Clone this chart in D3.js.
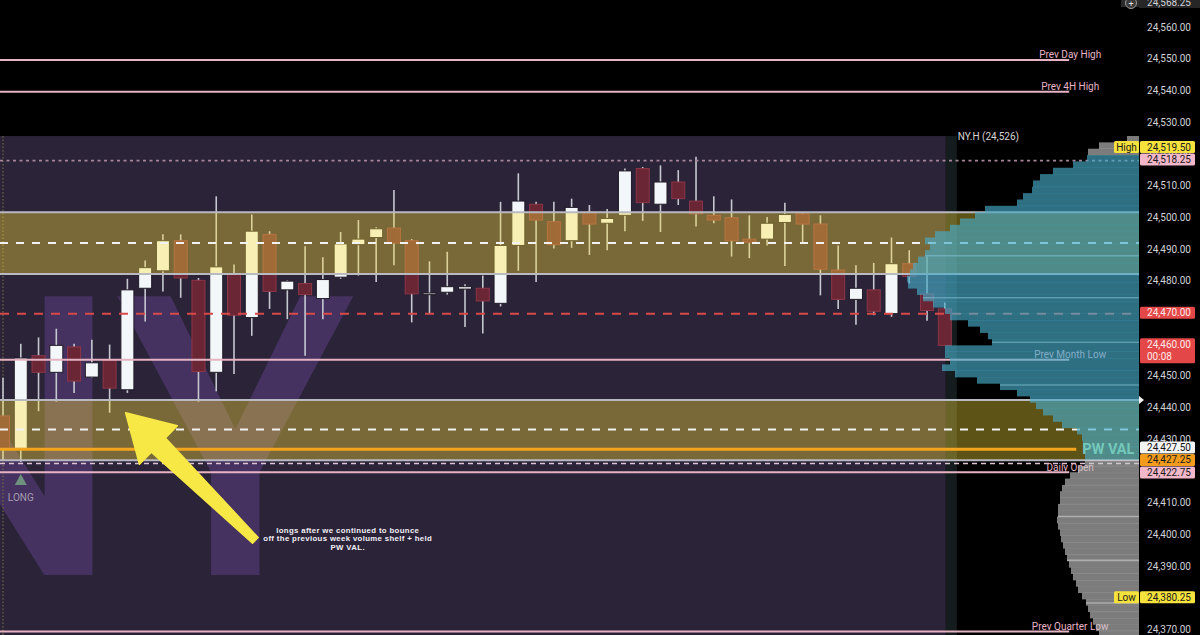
<!DOCTYPE html>
<html><head><meta charset="utf-8">
<script src="https://cdn.jsdelivr.net/npm/d3@7"></script>
<style>html,body{margin:0;padding:0;background:#000;overflow:hidden}</style>
</head><body>
<svg id="chart" width="1200" height="635"></svg>
<script>
// ---------- DATA ----------
const candleOpen  = [24437.75,24427.5,24456.75,24451.5,24459.5,24450,24455.25,24446,24478,24483.5,
  24493,24480.5,24451.5,24482.5,24468.75,24495,24477.5,24479.5,24474.75,24481.5,
  24491.75,24494,24497,24493,24476.5,24476.75,24477.75,24478,24473.25,24491.5,
  24504.5,24499,24493,24502,24498.5,24501,24515.75,24504.5,24511.5,24505.5,
  24501,24500.25,24493.5,24493.5,24498.75,24501.5,24498.25,24483.75,24474.5,24477.5,
  24470,24485.75,24476.25,24471.5];
const candleHigh  = [24449.75,24460.5,24462.5,24465.25,24460.5,24461.75,24460.25,24481,24486.75,24495,
  24495,24481.25,24507,24485.5,24501.25,24496,24480.5,24491.25,24487.75,24495.75,
  24499.5,24497.25,24509,24493.5,24486.5,24489.5,24479.25,24482,24505.25,24514.25,
  24505.25,24505.25,24506.25,24504.25,24503,24515.75,24516.25,24516.75,24515.25,24519.5,
  24507,24506,24501,24500.5,24505,24501.75,24501,24491.5,24485.25,24486,
  24494,24490,24488,24473.5];
const candleLow   = [24423.5,24423.25,24439.25,24442.25,24445,24449.75,24438.75,24445,24467.5,24477,
  24475,24442.25,24445.5,24451,24463,24471.5,24468.25,24456.75,24468.25,24481,
  24482,24480,24485.25,24467.25,24470,24476,24465.75,24463.75,24472.25,24483.5,
  24480,24490.5,24490.75,24488.5,24490,24496,24499.25,24495.75,24504.25,24497.5,
  24498.5,24488,24487.5,24491.5,24485,24492,24475.75,24471.5,24466.5,24469.5,
  24469,24479.5,24467.75,24460];
const candleClose = [24427.5,24456,24451.5,24460,24448.75,24454.5,24446.5,24477.5,24484.5,24493,
  24481.25,24451.75,24484.75,24469.5,24496,24477,24480.25,24476,24480.75,24492,
  24493.5,24496.75,24492.25,24476.25,24476.5,24478.5,24478.5,24474,24491.5,24505.5,
  24499.5,24491.75,24503.5,24498.25,24500,24515,24505,24511.5,24506.25,24501.5,
  24499.5,24493,24492.5,24498.5,24501.25,24498.25,24484,24474.5,24478,24470.75,
  24485.75,24481.75,24471,24460];

const tickValues = [24370,24380,24390,24400,24410,24420,24430,24440,24450,24460,
  24470,24480,24490,24500,24510,24520,24530,24540,24550,24560];

const bandTop    = [24502, 24442.75];
const bandMid    = [24492.25, 24433.5];
const bandBottom = [24482.5, 24423.75];

const keyLevelNames  = ['Prev Day High','Prev 4H High','Prev Month Low','Daily Open','Prev Quarter Low'];
const keyLevelPrices = [24550, 24540, 24455.5, 24420, 24369.75];
const dashedLevelPrices = [24518.25, 24422.75];
const redLevelPrice = 24470;
const pwValPrice = 24427.25;
const nyHighPrice = 24526;
const nyHighText = 'NY.H (24,526)';

// volume profile: 2-point bins, from top bin (lower edge) downwards
const profileTopBin = 24524;
const profileStep = 2;
const profileVolume = [12,40,51,52,66,86,99,106,107,116,
  122,154,164,179,189,204,214,209,214,221,
  226,229,232,231,222,216,206,194,189,171,
  159,151,147,194,194,189,197,184,162,139,
  122,109,103,96,86,77,62,57,56,55,
  54,54,61,69,74,77,79,79,81,81,
  82,81,79,78,76,74,72,70,68,66,
  63,61,57,53,51,49,46,43,40];
const valueAreaLow = 24424, valueAreaHigh = 24520;
const profileRowPrices = [24488.25, 24475, 24461, 24447.5, 24406, 24392.25, 24378.75];

const tagPrices = [24518.25, 24519.5, 24470, 24460, 24427.5, 24427.25, 24422.75, 24380.25];
const tagTexts  = ['24,518.25','24,519.50','24,470.00','24,460.00','24,427.50','24,427.25','24,422.75','24,380.25'];
const tagSub    = ['','','','00:08','','','',''];
const tagSide   = ['','High','','','','','','Low'];
const tagBg     = ['#f2b7c8','#f6e23c','#e34747','#e34747','#f4f4f4','#f39b1d','#f2b7c8','#f6e23c'];
const tagFg     = ['#1a1a1a','#1a1a1a','#ffe9e9','#ffe9e9','#111','#1a1a1a','#1a1a1a','#1a1a1a'];
const topTagPrice = 24568.25, topTagText = '24,568.25';

const annotationLines = ['longs after we continued to bounce','off the previous week volume shelf + held','PW VAL.'];
const longSignalIndex = 1;

// ---------- DRAW ----------
const svg = d3.select('#chart');
const W = 1200, H = 635;
const FONT = "Roboto, 'Noto Sans', sans-serif";
const y = d3.scaleLinear().domain([24560, 24370]).range([28.2, 630.8]);
const x = d3.scaleLinear().domain([0, 53]).range([3, 944.8]);
const RIGHT = 1139;
const lineEnd = x(60);
const boxRight = x(53) + 1;
const boxTop = y(nyHighPrice);

svg.append('rect').attr('width', W).attr('height', H).attr('fill', '#000');
svg.append('rect').attr('x', 0).attr('y', boxTop).attr('width', boxRight).attr('height', H - boxTop).attr('fill', '#2b2338');
svg.append('rect').attr('x', boxRight).attr('y', boxTop).attr('width', 11).attr('height', H - boxTop).attr('fill', '#151c1e');

const defs = svg.append('defs');
defs.append('clipPath').attr('id', 'boxclip').append('rect')
  .attr('x', 0).attr('y', boxTop).attr('width', boxRight).attr('height', H - boxTop);
svg.append('text').attr('clip-path', 'url(#boxclip)')
  .attr('x', -157).attr('y', 575)
  .attr('font-family', FONT).attr('font-weight', 500).attr('font-size', 392)
  .attr('fill', '#5b3f82').attr('fill-opacity', 0.55).text('NY');

// session start dotted line
svg.append('line').attr('x1', x(0)).attr('x2', x(0)).attr('y1', boxTop).attr('y2', H)
  .attr('stroke', '#7d7446').attr('stroke-width', 1).attr('stroke-dasharray', '1.5,2');

// candles
const candles = candleOpen.map((o, i) => ({i, o, h: candleHigh[i], l: candleLow[i], c: candleClose[i]}));
const cg = svg.append('g');
cg.selectAll('line.wick').data(candles).join('line')
  .attr('x1', d => x(d.i)).attr('x2', d => x(d.i))
  .attr('y1', d => y(d.h)).attr('y2', d => y(d.l))
  .attr('stroke', '#c6c8d0').attr('stroke-width', 1.6);
cg.selectAll('rect.body').data(candles).join('rect')
  .attr('x', d => x(d.i) - 6.5).attr('width', 13)
  .attr('y', d => y(Math.max(d.o, d.c)))
  .attr('height', d => Math.max(1.6, Math.abs(y(d.o) - y(d.c))))
  .attr('fill', d => d.c >= d.o ? '#f4f7fa' : '#6b2636')
  .attr('stroke', d => d.c >= d.o ? '#1f1b26' : '#8c3646')
  .attr('stroke-width', 1);

// yellow bands (overlay)
bandTop.forEach((t, k) => {
  svg.append('rect').attr('x', 0).attr('width', RIGHT)
    .attr('y', y(t)).attr('height', y(bandBottom[k]) - y(t))
    .attr('fill', '#ffe13c').attr('fill-opacity', 0.37);
});

// lines (under the profile)
const lg = svg.append('g');
function hline(p, x1, x2, color, w, dash) {
  const l = lg.append('line').attr('x1', x1).attr('x2', x2).attr('y1', y(p)).attr('y2', y(p))
    .attr('stroke', color).attr('stroke-width', w);
  if (dash) l.attr('stroke-dasharray', dash);
  return l;
}
bandTop.forEach(p => hline(p, 0, RIGHT, '#b9b9c2', 2));
bandBottom.forEach(p => hline(p, 0, RIGHT, '#b9b9c2', 2));
bandMid.forEach(p => hline(p, 0, RIGHT, '#f2f2f2', 2, '8,8'));
hline(redLevelPrice, 0, RIGHT, '#d64a4a', 2, '9,8');
hline(dashedLevelPrices[0], 0, RIGHT, '#a48698', 1.6, '3,3.5');
hline(dashedLevelPrices[1], 0, RIGHT, '#dcc3d3', 1.5, '5,4');
keyLevelPrices.forEach(p => hline(p, 0, lineEnd, '#e6b3c3', 2));
hline(pwValPrice, 0, x(60.4), '#f3a51d', 3);

// level labels
keyLevelNames.forEach((n, k) => {
  svg.append('text').attr('x', lineEnd + 1).attr('y', y(keyLevelPrices[k]) - 5)
    .attr('text-anchor', 'middle').attr('dominant-baseline', 'central')
    .attr('font-family', FONT).attr('font-size', 10).attr('fill', '#e8b4c6').text(n);
});

// volume profile
const bins = profileVolume.map((v, k) => ({low: profileTopBin - k * profileStep, v}));
const vx = d3.scaleLinear().domain([0, d3.max(profileVolume)]).range([0, 232]);
function binWidth(p) {
  const b = bins.find(b => p >= b.low && p < b.low + profileStep);
  return b ? vx(b.v) : 0;
}
profileRowPrices.forEach(p => {
  svg.append('line').attr('x1', RIGHT - binWidth(p)).attr('x2', RIGHT).attr('y1', y(p)).attr('y2', y(p))
    .attr('stroke', '#ffffff').attr('stroke-opacity', 0.5).attr('stroke-width', 1.5);
});
svg.append('g').selectAll('rect').data(bins).join('rect')
  .attr('x', d => RIGHT - vx(d.v)).attr('width', d => vx(d.v))
  .attr('y', d => y(d.low + profileStep)).attr('height', d => y(d.low) - y(d.low + profileStep) + 0.3)
  .attr('fill', d => (d.low >= valueAreaLow && d.low < valueAreaHigh) ? '#46aac8' : '#c8c8c8')
  .attr('fill-opacity', d => (d.low >= valueAreaLow && d.low < valueAreaHigh) ? 0.65 : 0.62);

// PW VAL label
svg.append('text').attr('x', x(60.4) + 6).attr('y', y(pwValPrice))
  .attr('dominant-baseline', 'central').attr('font-family', FONT).attr('font-weight', 700)
  .attr('font-size', 14.5).attr('fill', '#74c8bb').text('PW VAL');

// NY.H label
svg.append('text').attr('x', boxRight + 12).attr('y', boxTop)
  .attr('dominant-baseline', 'central').attr('font-family', FONT).attr('font-size', 10)
  .attr('fill', '#d6d6d6').text(nyHighText);

// ---------- right axis ----------
svg.append('rect').attr('x', RIGHT).attr('y', 0).attr('width', W - RIGHT).attr('height', H).attr('fill', '#000');
svg.append('g').selectAll('text').data(tickValues).join('text')
  .attr('x', 1191).attr('y', d => y(d) - 1.2)
  .attr('text-anchor', 'end').attr('dominant-baseline', 'central')
  .attr('font-family', FONT).attr('font-size', 10).attr('fill', '#cfd1d6')
  .text(d => d3.format(',.2f')(d));

// top partial tag
svg.append('rect').attr('x', RIGHT).attr('y', y(topTagPrice) - 7).attr('width', W - RIGHT).attr('height', 13).attr('fill', '#262626');
svg.append('rect').attr('x', 1121).attr('y', -4).attr('width', 18).attr('height', 11).attr('fill', '#2a2a2a');
svg.append('circle').attr('cx', 1131).attr('cy', 3).attr('r', 5.5).attr('fill', '#3a3a3a').attr('stroke', '#9a9a9a').attr('stroke-width', 1);
svg.append('text').attr('x', 1131).attr('y', 3.5).attr('text-anchor', 'middle').attr('dominant-baseline', 'central')
  .attr('font-family', FONT).attr('font-size', 9).attr('fill', '#ddd').text('+');
svg.append('text').attr('x', 1191).attr('y', y(topTagPrice) + 0.5).attr('text-anchor', 'end').attr('dominant-baseline', 'central')
  .attr('font-family', FONT).attr('font-size', 10).attr('fill', '#cfd1d6').text(topTagText);

// marker triangle at band-2 top
const ty = y(bandTop[1]);
svg.append('path').attr('d', `M${RIGHT},${ty - 4}L${RIGHT + 5},${ty}L${RIGHT},${ty + 4}Z`).attr('fill', '#f2f2f2');

// price tags with collision stacking
const TAG_H = 12;
const placed = [];
tagPrices.forEach((p, k) => {
  const nat = y(p) - 1;
  const h = tagSub[k] ? 25 : TAG_H;
  let top = nat - TAG_H / 2;
  for (let it = 0; it < 6; it++) {
    let moved = false;
    placed.forEach(q => {
      if (top < q.bottom && top + h > q.top) {
        if (nat < q.nat) top = q.top - h - 0.5; else top = q.bottom + 0.5;
        moved = true;
      }
    });
    if (!moved) break;
  }
  placed.push({top, bottom: top + h, nat});
  svg.append('rect').attr('x', RIGHT + 1).attr('y', top).attr('width', 55).attr('height', h)
    .attr('rx', 1.5).attr('fill', tagBg[k]);
  svg.append('text').attr('x', 1191).attr('y', top + TAG_H / 2)
    .attr('text-anchor', 'end').attr('dominant-baseline', 'central')
    .attr('font-family', FONT).attr('font-size', 10).attr('fill', tagFg[k]).text(tagTexts[k]);
  if (tagSub[k]) {
    svg.append('text').attr('x', 1147).attr('y', top + TAG_H / 2 + 12)
      .attr('dominant-baseline', 'central')
      .attr('font-family', FONT).attr('font-size', 10).attr('fill', tagFg[k]).text(tagSub[k]);
  }
  if (tagSide[k]) {
    svg.append('rect').attr('x', RIGHT - 25).attr('y', top).attr('width', 25).attr('height', h)
      .attr('rx', 1.5).attr('fill', tagBg[k]);
    svg.append('text').attr('x', RIGHT - 12.5).attr('y', top + TAG_H / 2)
      .attr('text-anchor', 'middle').attr('dominant-baseline', 'central')
      .attr('font-family', FONT).attr('font-size', 10).attr('fill', tagFg[k]).text(tagSide[k]);
  }
});

// ---------- annotations ----------
// LONG marker under signal candle
const lx = x(longSignalIndex), ly = y(candleLow[longSignalIndex]) + 12;
svg.append('path').attr('d', `M${lx},${ly}L${lx + 6},${ly + 11}L${lx - 6},${ly + 11}Z`).attr('fill', '#6f9180');
svg.append('text').attr('x', lx).attr('y', ly + 24).attr('text-anchor', 'middle').attr('dominant-baseline', 'central')
  .attr('font-family', FONT).attr('font-size', 10).attr('fill', '#a59db2').text('LONG');

// yellow arrow
const tip = [x(6.9), y(24438.75)], tail = [x(14.2), y(24398.5)];
const dx = tail[0] - tip[0], dy = tail[1] - tip[1], L = Math.hypot(dx, dy);
const u = [dx / L, dy / L], n = [-u[1], u[0]];
const hb = [tip[0] + u[0] * 46, tip[1] + u[1] * 46];
const P = (b, s) => [b[0] + n[0] * s, b[1] + n[1] * s];
const pts = [tip, P(hb, 27), P(hb, 10), P(tail, 4), P(tail, -4), P(hb, -10), P(hb, -27)];
svg.append('path').attr('d', 'M' + pts.map(p => p.join(',')).join('L') + 'Z')
  .attr('fill', '#f7e846').attr('stroke', '#f7e846').attr('stroke-width', 1.5).attr('stroke-linejoin', 'round');

// annotation text
const ax = x(19.4);
const at = svg.append('text').attr('x', ax).attr('y', y(24401.7))
  .attr('text-anchor', 'middle').attr('dominant-baseline', 'central')
  .attr('font-family', "'Liberation Sans', Arial, sans-serif").attr('font-weight', 700)
  .attr('font-size', 7.8).attr('letter-spacing', 0.35).attr('fill', '#f1eff5');
annotationLines.forEach((t, k) => at.append('tspan').attr('x', ax).attr('dy', k ? 8.2 : 0).text(t));
</script>
</body></html>
